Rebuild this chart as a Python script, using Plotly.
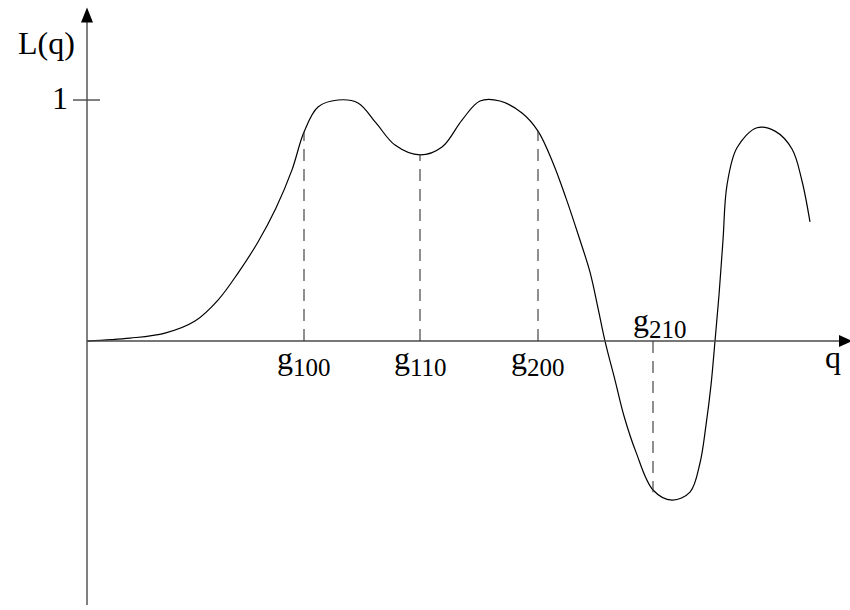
import plotly.graph_objects as go

# Response curve L(q): points sampled at roughly even spacing along the curve
q = [0.00, 0.43, 0.78, 1.08, 1.31, 1.51, 1.71, 1.89, 2.05, 2.17, 2.31, 2.51,
     2.71, 2.89, 3.08, 3.33, 3.55, 3.75, 3.93, 4.13, 4.35, 4.51, 4.66, 4.79,
     4.91, 5.03, 5.11, 5.18, 5.28, 5.37, 5.49, 5.66, 5.85, 6.03, 6.13, 6.19,
     6.24, 6.28, 6.32, 6.36, 6.40, 6.50, 6.70, 6.88, 7.05, 7.15, 7.23]
L = [0.000, 0.012, 0.033, 0.083, 0.170, 0.282, 0.411, 0.552, 0.710, 0.867,
     0.971, 1.000, 0.988, 0.905, 0.813, 0.772, 0.805, 0.917, 0.996, 0.996,
     0.946, 0.871, 0.739, 0.593, 0.444, 0.286, 0.137, 0.000, -0.162, -0.311,
     -0.461, -0.618, -0.660, -0.627, -0.506, -0.349, -0.183, 0.000, 0.191,
     0.419, 0.647, 0.802, 0.885, 0.871, 0.797, 0.664, 0.494]

# Marked positions g_hkl and the curve height at each
g_names = ["100", "110", "200", "210"]
g_q = [2.17, 3.33, 4.51, 5.66]
g_L = [0.867, 0.772, 0.871, -0.627]

# Visible window
q_min, q_max = -0.87, 7.63
L_min, L_max = -1.116, 1.415
L_axis_bottom = -1.095
L_axis_top = 1.33
q_axis_end = 7.53

SERIF = "Liberation Serif, Times New Roman, serif"
AXIS_COLOR = "#4a4a4a"
TEXT_SIZE = 32


def g_label(name):
    return f"g<sub><span style='font-size:25px'>{name}</span></sub>"


fig = go.Figure()
fig.add_trace(go.Scatter(
    x=q, y=L, mode="lines",
    line=dict(color="black", width=1.2, shape="spline", smoothing=1.0),
    hoverinfo="skip", showlegend=False,
))

shapes = []
# axes
shapes.append(dict(type="line", x0=0, x1=0, y0=L_axis_bottom, y1=L_axis_top,
                   line=dict(color=AXIS_COLOR, width=1.4)))
shapes.append(dict(type="line", x0=0, x1=q_axis_end, y0=0, y1=0,
                   line=dict(color=AXIS_COLOR, width=1.4)))
# arrowheads (pixel-sized, anchored at axis ends)
shapes.append(dict(type="path", xsizemode="pixel", ysizemode="pixel",
                   xanchor=0, yanchor=L_axis_top,
                   path="M-6,-2 L6,-2 L0,13 Z",
                   fillcolor="black", line=dict(width=0)))
shapes.append(dict(type="path", xsizemode="pixel", ysizemode="pixel",
                   xanchor=q_axis_end, yanchor=0,
                   path="M-1,-6 L-1,6 L12,0 Z",
                   fillcolor="black", line=dict(width=0)))
# tick at L = 1
shapes.append(dict(type="line", xsizemode="pixel", xanchor=0,
                   x0=-14, x1=13, y0=1, y1=1,
                   line=dict(color=AXIS_COLOR, width=1.4)))
# dashed drop lines
for gq, gl in zip(g_q, g_L):
    shapes.append(dict(type="line", x0=gq, x1=gq, y0=0, y1=gl,
                       line=dict(color="#333333", width=1.1, dash="12px,8px")))

font = dict(family=SERIF, size=TEXT_SIZE, color="black")
annotations = [
    dict(x=-0.41, y=1.228, text="L(q)", showarrow=False, yshift=2, font=font),
    dict(x=-0.19, y=1.0, text="1", showarrow=False, xanchor="right",
         xshift=2, yshift=2, font=font),
    dict(x=7.46, y=-0.066, text="q", showarrow=False, font=font),
]
for name, gq, gl in zip(g_names, g_q, g_L):
    if gl >= 0:
        annotations.append(dict(x=gq, y=0, text=g_label(name),
                                showarrow=False, xanchor="center",
                                yanchor="top", yshift=3, font=font))
    else:
        annotations.append(dict(x=gq, y=0, text=g_label(name),
                                showarrow=False, xanchor="center",
                                yanchor="bottom", xshift=7, yshift=-4,
                                font=font))

fig.update_layout(
    width=850, height=610,
    margin=dict(l=0, r=0, t=0, b=0),
    paper_bgcolor="white", plot_bgcolor="white",
    xaxis=dict(range=[q_min, q_max], visible=False, fixedrange=True),
    yaxis=dict(range=[L_min, L_max], visible=False, fixedrange=True),
    shapes=shapes, annotations=annotations,
    showlegend=False,
)

fig.write_html("out.html")
